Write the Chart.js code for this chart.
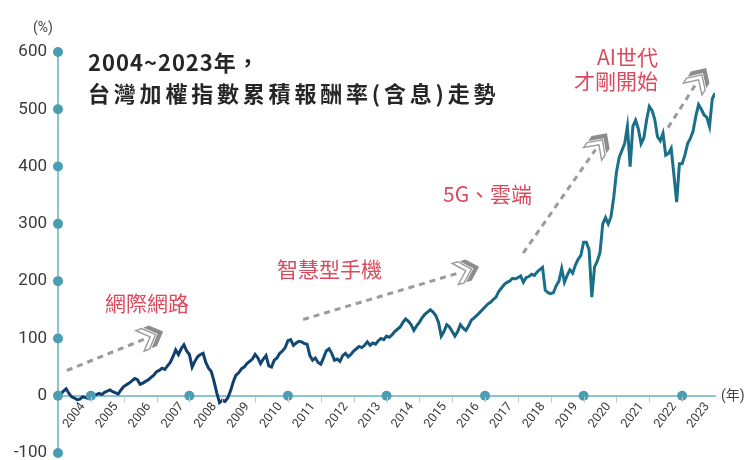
<!DOCTYPE html>
<html><head><meta charset="utf-8">
<script src="https://cdn.jsdelivr.net/npm/chart.js@4.4.0/dist/chart.umd.min.js"></script>
<style>
html,body{margin:0;padding:0;background:#fff;}
#wrap{position:relative;width:747px;height:460px;overflow:hidden;background:#fff;}
canvas{position:absolute;left:0;top:0;}
.t{position:absolute;white-space:nowrap;font-family:"Noto Sans CJK TC","Noto Sans CJK SC",sans-serif;line-height:1;}
.title{color:#262626;font-weight:700;font-size:22px;}
.red{color:#d94a5d;font-size:21px;font-weight:400;}
.unit{color:#444;font-size:14px;font-family:Roboto,"Noto Sans CJK TC",sans-serif;}
</style></head><body>
<div id="wrap">
<canvas id="c" width="747" height="460"></canvas>
<div class="t unit" style="left:33px;top:20px;">(%)</div>
<div class="t unit" style="left:721px;top:388px;">(年)</div>
<div class="t title" style="left:88px;top:50px;letter-spacing:1px;">2004~2023年，</div>
<div class="t title" style="left:88px;top:81px;letter-spacing:3.8px;">台灣加權指數累積報酬率(含息)走勢</div>
<div class="t red" style="left:105px;top:292px;">網際網路</div>
<div class="t red" style="left:277px;top:258px;">智慧型手機</div>
<div class="t red" style="left:443px;top:183px;">5G、雲端</div>
<div class="t red" style="left:568px;top:46px;width:90px;text-align:right;">AI世代</div>
<div class="t red" style="left:568px;top:70px;width:90px;text-align:right;">才剛開始</div>
</div>
<script>
// ---- data ----
const years = [2004,2005,2006,2007,2008,2009,2010,2011,2012,2013,2014,2015,2016,2017,2018,2019,2020,2021,2022,2023];
const yTicks = [-100,0,100,200,300,400,500,600];
const dotYears = [2005,2008,2011,2014,2017,2020,2023];
const startValue = 0;
// monthly cumulative return (%), month-end, Jan 2004 .. Dec 2023
const ret2004_2008 = [
  3,8,12,4,-2,-4,-7,-6,-2,-3,-5,-2,
  -1,2,4,2,6,8,10,7,5,3,10,16,
  19,22,26,30,28,20,22,25,28,32,36,42,
  44,48,46,52,58,68,80,72,82,89,78,72,
  50,60,68,72,74,58,48,42,25,5,-12,-8];
const ret2009_2013 = [
  -10,-4,8,24,36,40,47,50,56,60,64,72,
  66,56,64,70,52,50,62,66,74,78,84,96,
  98,88,92,95,94,91,90,70,62,66,58,55,
  66,78,82,74,62,64,60,70,74,68,72,78,
  82,86,84,88,94,88,92,90,96,100,98,104];
const ret2014_2018 = [
  102,106,112,116,120,128,134,130,124,114,122,128,
  136,142,146,150,146,140,128,104,112,124,120,112,
  104,112,124,118,114,122,132,136,140,145,150,155,
  160,163,168,172,182,188,194,198,200,205,204,206,
  209,198,206,208,212,210,216,220,224,184,180,178];
const ret2019_2023 = [
  180,192,200,222,198,210,220,214,228,238,245,268,
  268,255,172,225,235,250,300,311,300,312,346,390,
  416,428,440,470,400,470,481,466,440,450,481,505,
  498,482,452,445,458,420,423,432,385,338,405,405,
  420,440,449,462,488,508,500,490,486,470,518,528];

const monthly = [].concat(ret2004_2008, ret2009_2013, ret2014_2018, ret2019_2023);
const lineData = [{x: years[0], y: startValue}].concat(monthly.map((v,i)=>({x: years[0] + (i+1)/12, y: v})));
const dotData = yTicks.map(v=>({x: years[0], y: v})).concat(dotYears.map(y=>({x: y, y: 0})));

// decorative arrows in data space [year, value]
const arrows = [
  {from:[2004.27, 44], to:[2007.2, 112]},
  {from:[2011.46, 133], to:[2016.82, 225]},
  {from:[2018.16, 249], to:[2020.71, 458]},
  {from:[2022.57, 468], to:[2023.73, 572]}
];

function chevron(c, px, py, ux, uy, L, W, t, fill, stroke){
  const nx = -uy, ny = ux;
  const pts = [[0,0],[-L,W],[-L-t,W],[-t,0],[-L-t,-W],[-L,-W]];
  c.beginPath();
  pts.forEach(([a,b],i)=>{const x=px+a*ux+b*nx, y=py+a*uy+b*ny; i?c.lineTo(x,y):c.moveTo(x,y);});
  c.closePath();
  c.fillStyle = fill; c.fill();
  if (stroke){ c.strokeStyle = stroke; c.lineWidth = 1.4; c.stroke(); }
}

const decor = {
  id:'decor',
  afterDraw(chart){
    const c = chart.ctx, xs = chart.scales.x, ys = chart.scales.y;
    const y0 = ys.getPixelForValue(0);
    c.save();
    c.strokeStyle = '#c8c8c8'; c.lineWidth = 1;
    years.slice(1).forEach(yr=>{ const px = Math.round(xs.getPixelForValue(yr))+0.5; c.beginPath(); c.moveTo(px, y0+1); c.lineTo(px, y0+7); c.stroke(); });
    arrows.forEach(a=>{
      const x1 = xs.getPixelForValue(a.from[0]), y1 = ys.getPixelForValue(a.from[1]);
      const x2 = xs.getPixelForValue(a.to[0]), y2 = ys.getPixelForValue(a.to[1]);
      const len = Math.hypot(x2-x1, y2-y1), ux = (x2-x1)/len, uy = (y2-y1)/len;
      c.setLineDash([6,5]); c.strokeStyle = '#9b9b9b'; c.lineWidth = 3; c.lineCap='butt';
      c.beginPath(); c.moveTo(x1,y1); c.lineTo(x2-20*ux, y2-20*uy); c.stroke();
      c.setLineDash([]);
      chevron(c, x2, y2, ux, uy, 11, 11, 6, '#8c8c8c', null);
      chevron(c, x2-8*ux, y2-8*uy, ux, uy, 11, 11, 6, '#ffffff', '#9a9a9a');
    });
    c.restore();
  }
};

new Chart(document.getElementById('c'), {
  type: 'scatter',
  data: { datasets: [
    { data: dotData, order: 0, pointRadius: 5, pointHoverRadius: 5, pointBackgroundColor: '#4b9eb2', pointBorderWidth: 0, showLine: false, clip: false },
    { data: lineData, order: 1, showLine: true, pointRadius: 0, borderWidth: 3, tension: 0,
      borderColor: (ctx)=>{ const ch = ctx.chart; if(!ch.chartArea) return '#154472';
        const g = ch.ctx.createLinearGradient(ch.scales.x.getPixelForValue(2009),0,ch.scales.x.getPixelForValue(2019),0);
        g.addColorStop(0,'#123d6e'); g.addColorStop(1,'#1a6f89'); return g; } }
  ]},
  options: {
    responsive: false, animation: false, devicePixelRatio: 1,
    layout: { padding: { left: 0, right: 32, top: 52, bottom: 7 } },
    plugins: { legend: { display: false }, tooltip: { enabled: false } },
    scales: {
      x: { type: 'linear', min: years[0], max: years[years.length-1]+1, position: { y: 0 },
        afterFit: s => { s.height = 0; },
        afterBuildTicks: s => { s.ticks = years.map(y=>({value: y + 0.76})); },
        grid: { display: false, drawTicks: false },
        border: { display: true, color: '#8cc4d3', width: 2 },
        ticks: { autoSkip: false, minRotation: 52, maxRotation: 52, padding: 4, color: '#3a3a3a',
          font: { family: 'Roboto', size: 12.5 }, callback: (v,i)=> String(years[i]) } },
      y: { type: 'linear', min: yTicks[0], max: yTicks[yTicks.length-1],
        afterFit: s => { s.width = 58; s.paddingTop = 0; s.paddingBottom = 0; },
        afterBuildTicks: s => { s.ticks = yTicks.map(v=>({value:v})); },
        grid: { display: false, drawTicks: false },
        border: { display: true, color: '#8cc4d3', width: 2 },
        ticks: { padding: 11, color: '#3a3a3a', font: { family: 'Roboto', size: 17 } } }
    }
  },
  plugins: [decor]
});
</script>
</body></html>
